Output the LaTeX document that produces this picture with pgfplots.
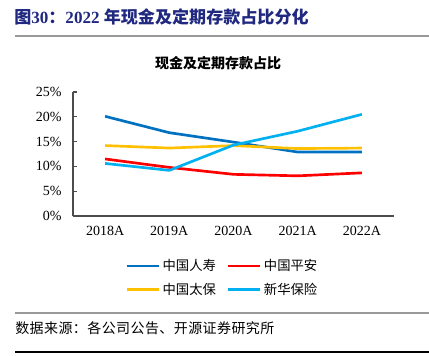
\documentclass[border=0pt]{standalone}
\usepackage{pgfplots}
\pgfplotsset{compat=1.18}
\usepackage{fontspec}
\setmainfont{Liberation Serif}
\newfontfamily\cjk{Noto Sans CJK SC}
\newfontfamily\cjksp[LetterSpace=3]{Noto Sans CJK SC}
\definecolor{cA}{RGB}{0,112,192}
\definecolor{cB}{RGB}{255,0,0}
\definecolor{cC}{RGB}{255,192,0}
\definecolor{cD}{RGB}{0,176,240}
\definecolor{navy}{RGB}{32,40,128}
\begin{document}
\begin{tikzpicture}
\begin{scope}[x=0.75pt,y=-0.75pt]
\path[use as bounding box] (0,0) rectangle (429,355);
\node[anchor=west,inner sep=0pt,text=navy,font=\fontsize{12.8}{15}\selectfont\bfseries] at (14,17) {{\cjk 图}30{\cjk ：}2022 {\cjk 年现金及定期存款占比分化}};
\draw[gray!80,line width=0.9pt] (15,36) -- (429,36);
\node[inner sep=0pt,font=\cjk\fontsize{10.5}{12}\selectfont\bfseries] at (218,63) {现金及定期存款占比};
\draw[gray!80,line width=0.9pt] (15,313) -- (429,313);
\node[anchor=west,inner sep=0pt,font=\cjksp\fontsize{10.5}{12}\selectfont] at (15,328) {数据来源：各公司公告、开源证券研究所};
\draw[black,line width=1.1pt] (15,352) -- (429,352);
\coordinate (O) at (73,216);
\end{scope}
\begin{axis}[
  at={(O)}, anchor=south west,
  scale only axis, width=240.75pt, height=93pt,
  xmin=-0.5, xmax=4.5, ymin=0, ymax=25,
  axis x line=bottom, axis y line=left,
  axis line style={-, draw=black!70, line width=0.8pt},
  xtick={0,1,2,3,4},
  xticklabels={2018A,2019A,2020A,2021A,2022A},
  x tick style={draw=none},
  extra x ticks={0.5,1.5,2.5,3.5,4.5},
  extra x tick labels={},
  extra x tick style={major tick length=3pt, tick style={draw=black!70, line width=0.8pt}, tick align=inside},
  ytick={0,5,10,15,20,25},
  yticklabel={\pgfmathprintnumber{\tick}\%},
  y tick style={draw=black!70, line width=0.8pt},
  tick align=inside, major tick length=3pt,
  /pgf/number format/assume math mode=true,
  ticklabel style={font=\fontsize{10.5}{12}\selectfont},
  yticklabel style={xshift=-5pt},
  xticklabel style={yshift=-4pt},
  legend columns=2,
  legend style={draw=none, fill=none, inner sep=0pt, at={(0.162,-0.325)}, anchor=north west,
    font=\cjk\fontsize{10}{12}\selectfont,
    /tikz/every even column/.append style={column sep=6pt},
    row sep=4pt},
  legend image code/.code={\draw[#1] (0pt,0pt) -- (24pt,0pt);},
  legend cell align=left,
]
\addplot[cA, line width=2pt] coordinates {(0,20.1) (1,16.8) (2,14.9) (3,12.9) (4,12.9)};
\addplot[cB, line width=2pt] coordinates {(0,11.5) (1,9.8) (2,8.4) (3,8.1) (4,8.7)};
\addplot[cC, line width=2pt] coordinates {(0,14.2) (1,13.7) (2,14.2) (3,13.6) (4,13.7)};
\addplot[cD, line width=2pt] coordinates {(0,10.6) (1,9.2) (2,14.3) (3,17.1) (4,20.5)};
\legend{中国人寿,中国平安,中国太保,新华保险}
\end{axis}
\end{tikzpicture}
\end{document}
